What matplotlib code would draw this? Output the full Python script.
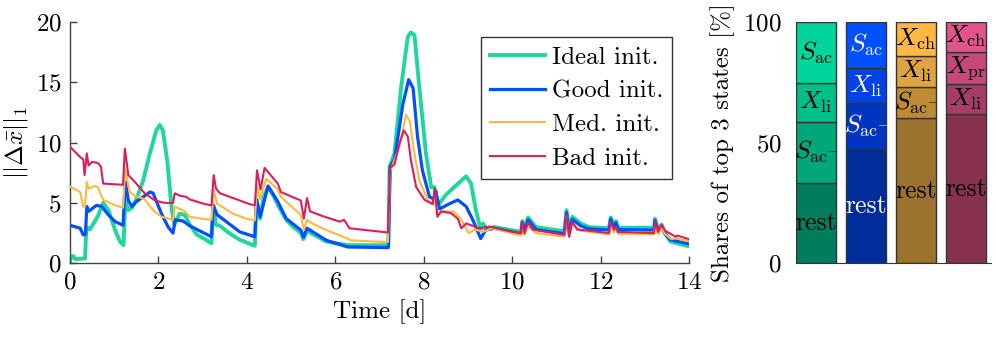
import matplotlib
matplotlib.use("Agg")
import matplotlib.pyplot as plt
import numpy as np

plt.rcParams['font.family'] = 'serif'
plt.rcParams['font.serif'] = ['cmr10', 'DejaVu Serif']
plt.rcParams['mathtext.fontset'] = 'cm'
plt.rcParams['axes.formatter.use_mathtext'] = True
plt.rcParams['font.size'] = 18

# ---------------- line data (time [d], ||dx||_1) ----------------
ideal = [(0, 0.1), (0.03, 0.6), (0.08, 0.6), (0.12, 0.35), (0.34, 0.4), (0.37, 3.0), (0.45, 2.8),
         (0.63, 3.9), (0.75, 5.0), (0.87, 4.4), (1.02, 2.75), (1.13, 1.8), (1.21, 1.5), (1.25, 5.2),
         (1.32, 4.4), (1.4, 4.6), (1.5, 5.3), (1.65, 6.8), (1.8, 9.0), (1.95, 11.0), (2.03, 11.45),
         (2.1, 11.0), (2.2, 8.5), (2.3, 4.5), (2.36, 3.2), (2.48, 4.1), (2.6, 4.0), (2.71, 3.2),
         (2.86, 2.4), (3.05, 2.0), (3.2, 1.65), (3.24, 4.8), (3.3, 3.2), (3.39, 3.1), (3.6, 2.5),
         (3.84, 1.95), (4.18, 1.45), (4.22, 5.2), (4.3, 3.7), (4.38, 5.5), (4.48, 6.3), (4.6, 5.6),
         (4.75, 4.5), (4.89, 3.6), (5.05, 3.0), (5.22, 2.5), (5.28, 2.0), (5.36, 2.7), (5.45, 2.5),
         (5.8, 1.8), (6.28, 1.5), (7.2, 1.5), (7.23, 8.0), (7.34, 9.1), (7.49, 14.6), (7.64, 18.75),
         (7.71, 19.1), (7.79, 18.9), (7.9, 14.6), (8.05, 9.1), (8.17, 6.3), (8.24, 6.3), (8.28, 5.2),
         (8.36, 5.0), (8.51, 5.7), (8.96, 7.2), (9.07, 6.6), (9.18, 4.4), (9.29, 2.75), (9.34, 3.3),
         (9.42, 2.85), (9.6, 3.0), (10.2, 2.6), (10.23, 3.5), (10.28, 2.9), (10.36, 3.8),
         (10.54, 3.0), (11.18, 2.65), (11.23, 4.4), (11.29, 2.7), (11.36, 3.85), (11.55, 3.3),
         (11.74, 3.0), (12.19, 2.9), (12.23, 3.8), (12.3, 3.1), (12.35, 3.5), (12.39, 2.95),
         (13.21, 2.95), (13.23, 3.7), (13.3, 2.8), (13.38, 3.2), (13.46, 2.5), (13.58, 1.8),
         (14.0, 1.4)]

good = [(0, 3.15), (0.23, 2.9), (0.3, 2.35), (0.35, 2.4), (0.38, 4.7), (0.42, 4.3), (0.6, 4.8),
        (0.72, 4.7), (0.87, 4.0), (1.02, 3.45), (1.2, 3.15), (1.25, 6.75), (1.32, 5.2), (1.4, 4.7),
        (1.5, 5.1), (1.81, 5.9), (1.88, 5.8), (2.07, 4.1), (2.22, 3.0), (2.33, 2.5), (2.38, 3.6),
        (2.56, 3.5), (2.71, 3.1), (3.2, 2.2), (3.24, 4.8), (3.33, 4.0), (3.39, 3.85), (3.84, 2.6),
        (4.18, 2.2), (4.22, 5.3), (4.3, 3.85), (4.48, 6.4), (4.7, 5.1), (4.89, 3.7), (5.22, 2.75),
        (5.28, 2.15), (5.36, 2.9), (5.8, 1.9), (6.28, 1.35), (7.2, 1.3), (7.24, 8.0), (7.34, 8.6),
        (7.53, 13.2), (7.66, 15.2), (7.76, 14.5), (7.86, 10.5), (7.97, 7.7), (8.13, 5.5),
        (8.24, 5.3), (8.27, 6.0), (8.36, 4.5), (8.51, 4.8), (8.77, 5.25), (8.96, 4.7), (9.11, 3.6),
        (9.29, 2.05), (9.4, 2.75), (9.6, 2.9), (10.2, 2.45), (10.23, 3.35), (10.28, 2.7),
        (10.36, 3.6), (10.54, 2.8), (11.18, 2.45), (11.23, 4.2), (11.29, 2.5), (11.36, 3.65),
        (11.55, 3.1), (11.74, 2.85), (12.19, 2.75), (12.23, 3.65), (12.3, 2.95), (12.35, 3.35),
        (12.39, 2.8), (13.21, 2.75), (13.23, 3.55), (13.3, 2.65), (13.38, 3.05), (13.46, 2.4),
        (13.58, 1.95), (14.0, 1.6)]

med = [(0, 6.35), (0.23, 5.9), (0.3, 4.7), (0.34, 4.7), (0.38, 6.75), (0.42, 6.2), (0.56, 6.4),
       (0.63, 6.3), (0.75, 5.25), (1.02, 4.8), (1.2, 4.6), (1.25, 7.8), (1.35, 5.9), (1.46, 5.6),
       (1.69, 5.3), (1.88, 4.4), (2.07, 3.85), (2.33, 3.6), (2.37, 4.7), (2.6, 4.3), (2.71, 3.85),
       (2.97, 3.7), (3.2, 3.6), (3.25, 6.1), (3.33, 4.9), (3.39, 4.8), (3.69, 4.1), (3.99, 3.7),
       (4.18, 3.55), (4.23, 6.4), (4.3, 5.3), (4.44, 7.0), (4.7, 6.1), (4.77, 5.5), (5.22, 4.0),
       (5.29, 2.75), (5.36, 3.6), (5.45, 3.35), (5.8, 2.75), (6.28, 2.05), (6.35, 1.9),
       (7.19, 1.75), (7.24, 7.6), (7.45, 9.65), (7.6, 12.3), (7.68, 11.8), (7.79, 9.1),
       (7.9, 6.9), (8.09, 5.25), (8.22, 4.9), (8.25, 5.9), (8.3, 4.0), (8.45, 4.3), (8.68, 4.3),
       (8.83, 3.7), (9.02, 2.5), (9.17, 2.8), (9.33, 2.6), (9.55, 2.9), (10.2, 2.3), (10.23, 3.0),
       (10.28, 2.35), (10.36, 3.1), (10.54, 2.5), (11.18, 2.2), (11.23, 3.9), (11.29, 2.2),
       (11.36, 3.3), (11.55, 2.7), (12.19, 2.4), (12.23, 3.2), (12.3, 2.55), (12.35, 2.9),
       (12.39, 2.45), (13.21, 2.4), (13.23, 3.2), (13.3, 2.4), (13.38, 2.9), (13.46, 2.4),
       (13.6, 2.0), (13.7, 2.05), (14.0, 1.85)]

bad = [(0, 9.65), (0.23, 8.8), (0.3, 8.6), (0.33, 7.3), (0.38, 9.1), (0.42, 8.1), (0.5, 8.4),
       (0.63, 8.3), (0.7, 8.0), (0.75, 6.6), (1.2, 6.5), (1.24, 9.5), (1.32, 7.3), (1.4, 7.0),
       (1.5, 6.6), (1.69, 5.8), (1.92, 5.2), (2.14, 5.0), (2.33, 5.0), (2.37, 5.8), (2.48, 5.6),
       (2.63, 5.5), (2.7, 5.3), (3.05, 4.9), (3.2, 4.8), (3.25, 7.3), (3.3, 6.2), (3.39, 5.8),
       (3.84, 5.2), (4.06, 4.9), (4.18, 4.8), (4.23, 7.7), (4.31, 6.1), (4.4, 7.9), (4.7, 6.6),
       (4.77, 5.9), (5.22, 5.2), (5.29, 3.7), (5.36, 5.4), (5.43, 4.3), (5.72, 3.9), (6.1, 3.45),
       (6.2, 3.6), (6.32, 2.9), (7.19, 2.55), (7.24, 7.9), (7.34, 8.2), (7.45, 9.9), (7.55, 11.0),
       (7.64, 10.5), (7.71, 8.55), (7.83, 6.3), (8.02, 5.25), (8.2, 4.9), (8.25, 6.2),
       (8.31, 3.85), (8.39, 4.3), (8.62, 4.15), (8.77, 3.7), (8.85, 2.9), (8.96, 3.3),
       (9.26, 2.9), (9.48, 3.05), (10.0, 2.6), (10.2, 2.5), (10.23, 3.45), (10.28, 2.5),
       (10.36, 3.4), (10.46, 2.8), (11.18, 2.35), (11.23, 4.0), (11.29, 2.2), (11.36, 3.45),
       (11.47, 2.8), (11.74, 2.7), (12.19, 2.5), (12.23, 3.45), (12.3, 2.8), (12.35, 3.0),
       (12.39, 2.6), (13.21, 2.5), (13.24, 3.5), (13.3, 2.6), (13.38, 3.2), (13.46, 2.7),
       (13.7, 2.2), (13.73, 2.3), (14.0, 2.0)]

series_labels = ['Ideal init.', 'Good init.', 'Med. init.', 'Bad init.']
line_colors = ['#1ed69e', '#0050ff', '#ffb940', '#dc1e5a']
line_widths = [2.8, 2.3, 1.5, 1.5]

# ---------------- bar data (shares of top 3 states [%]) ----------------
bar_rest = [33.4, 47.2, 60.0, 61.7]
bar_third = [25.2, 19.0, 12.8, 12.4]
bar_second = [15.9, 14.5, 13.0, 13.5]
bar_first = [25.5, 19.3, 14.2, 12.4]
lab_third = [r'$S_{\mathrm{ac}^{-}}$', r'$S_{\mathrm{ac}^{-}}$', r'$S_{\mathrm{ac}^{-}}$', r'$X_{\mathrm{li}}$']
lab_second = [r'$X_{\mathrm{li}}$', r'$X_{\mathrm{li}}$', r'$X_{\mathrm{li}}$', r'$X_{\mathrm{pr}}$']
lab_first = [r'$S_{\mathrm{ac}}$', r'$S_{\mathrm{ac}}$', r'$X_{\mathrm{ch}}$', r'$X_{\mathrm{ch}}$']

bar_colors = [
    ['#007e5c', '#00a77a', '#00be8a', '#00d69b'],
    ['#002d99', '#0035c2', '#0042e6', '#0050ff'],
    ['#9b732c', '#c08c33', '#e0a43c', '#ffb942'],
    ['#87314f', '#a63d66', '#c4487a', '#e0558b'],
]
text_colors = ['black', 'white', 'black', 'black']

W, H = 996, 340
fig = plt.figure(figsize=(W / 100, H / 100), dpi=100)

# ---------------- left line chart ----------------
ax = fig.add_axes([70 / W, 1 - 263.3 / H, (689 - 70) / W, (263.3 - 21.7) / H])
for data, lab, c, lw, z in zip([ideal, good, med, bad], series_labels, line_colors, line_widths, [2, 3, 4, 5]):
    tt = [p[0] for p in data]
    vv = [p[1] for p in data]
    ax.plot(tt, vv, color=c, lw=lw, label=lab, zorder=z, solid_joinstyle='round')
ax.set_xlim(0, 14)
ax.set_ylim(0, 20)
ax.set_xticks(range(0, 15, 2))
ax.set_yticks([0, 5, 10, 15, 20])
for s in ['top', 'right']:
    ax.spines[s].set_visible(False)
for s in ['left', 'bottom']:
    ax.spines[s].set_color('#444444')
    ax.spines[s].set_linewidth(1.0)
ax.tick_params(direction='in', length=5, width=1, color='#444444', labelsize=18, pad=6)
ax.set_xlabel('Time [d]', fontsize=18, labelpad=4)
ax.set_ylabel(r'$||\Delta\bar{x}||_1$', fontsize=18, labelpad=4)
leg = ax.legend(loc='upper right', bbox_to_anchor=(0.973, 0.935), borderaxespad=0,
                fancybox=False, edgecolor='#333333', fontsize=18, handlelength=2.2,
                labelspacing=0.45, borderpad=0.35, handletextpad=0.3, framealpha=1)
leg.get_frame().set_linewidth(1.0)

# ---------------- right stacked bars ----------------
bx = fig.add_axes([795.7 / W, 1 - 263.3 / H, 3.9 * 50 / W, (263.3 - 21.7) / H])
pos = np.arange(1, 5)
segs = [bar_rest, bar_third, bar_second, bar_first]
seg_labels = [['rest'] * 4, lab_third, lab_second, lab_first]
bottom = np.zeros(4)
for k, seg in enumerate(segs):
    seg = np.array(seg)
    for i in range(4):
        bx.bar(pos[i], seg[i], bottom=bottom[i], width=0.8, color=bar_colors[i][k],
               edgecolor='#333333', linewidth=1.0)
        bx.text(pos[i], bottom[i] + seg[i] / 2, seg_labels[k][i], ha='center', va='center',
                fontsize=18.5, color=text_colors[i])
    bottom = bottom + seg
bx.set_xlim(0.6, 4.5)
bx.set_ylim(0, 100)
bx.set_yticks([0, 50, 100])
bx.set_xticks([])
for s in ['top', 'right', 'left']:
    bx.spines[s].set_visible(False)
bx.spines['bottom'].set_color('#333333')
bx.tick_params(axis='y', length=0, labelsize=18, pad=10)
bx.set_ylabel('Shares of top 3 states [%]', fontsize=18, labelpad=6)

fig.savefig('out.png', dpi=100)
